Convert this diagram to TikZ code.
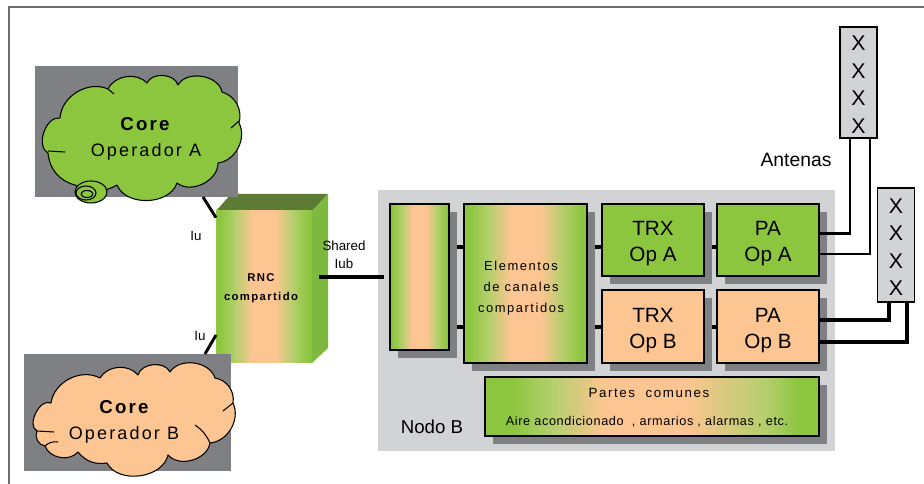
\documentclass[tikz,border=0pt]{standalone}
\usepackage{fontspec}
\setmainfont{Liberation Sans}
\newfontfamily\spaced[LetterSpace=12]{Liberation Sans}
\newfontfamily\spacedlight[LetterSpace=5]{Liberation Sans}
\usetikzlibrary{shadows}
\definecolor{opgreen}{HTML}{8CC63F}
\definecolor{opgreenlight}{HTML}{B4CF6C}
\definecolor{oporange}{HTML}{FDC591}
\definecolor{rnctop}{HTML}{5E7B36}
\definecolor{rncside}{HTML}{7DB93F}
\definecolor{backgray}{HTML}{7F8084}
\definecolor{panelgray}{HTML}{D2D3D5}
\definecolor{framegray}{HTML}{6D6E71}
\pgfdeclarehorizontalshading{sharedshade}{100bp}{color(0bp)=(opgreen); color(27bp)=(opgreen); color(35bp)=(opgreenlight); color(44bp)=(oporange); color(56bp)=(oporange); color(65bp)=(opgreenlight); color(73bp)=(opgreen); color(100bp)=(opgreen)}
\pgfdeclarehorizontalshading{widershade}{100bp}{color(0bp)=(opgreen); color(29bp)=(opgreen); color(35bp)=(opgreenlight); color(43bp)=(oporange); color(55bp)=(oporange); color(67bp)=(opgreenlight); color(72bp)=(opgreen); color(100bp)=(opgreen)}
\tikzset{
    backrect/.style={fill=backgray,inner sep=0pt,outer sep=0pt},
    cloudarc/.style={bend left=#1},
    cloudline/.style={draw=black,line width=0.8pt,line join=round},
    bus/.style={line width=3.6pt},
    wire/.style={line width=2.2pt},
    opbox/.style={draw=black,line width=1.1pt,inner sep=0pt,outer sep=0pt,align=center,text height=33pt,text depth=0pt,font=\fontsize{15.5}{19.5}\selectfont,
        drop shadow={shadow xshift=5.8pt,shadow yshift=-5.8pt,fill=backgray,opacity=1}},
    antenna/.style={draw=black,fill=panelgray,line width=1.1pt,inner sep=0pt,outer sep=0pt,align=center,text height=76pt,text depth=0pt,
        minimum width=27.5pt,font=\fontsize{16}{20.6}\selectfont},
    small/.style={font=\fontsize{10}{13.5}\selectfont,align=center,inner sep=0pt}
}
\begin{document}
\begin{tikzpicture}[x=0.75pt,y=-0.75pt]
    \useasboundingbox (0,0) rectangle (924,484);
    \draw[framegray,line width=1.5pt] (9,484) -- (9,7) -- (924,7);

    % RNC
    \fill[rnctop] (216,211) -- (231,194) -- (328,194) -- (312,211) -- cycle;
    \fill[rncside] (312,211) -- (328,194) -- (328,348) -- (312,363) -- cycle;
    \node[shading=sharedshade,inner sep=0pt,outer sep=0pt,minimum width=72pt,minimum height=114pt] (rnc) at (264,287) {};
    \node[font=\spaced\bfseries\fontsize{8.5}{14}\selectfont,align=center,inner sep=0pt] (rnclabel) at (261,288) {RNC\\compartido};

    % core A
    \node[backrect,minimum width=152.25pt,minimum height=98.25pt] (backA) at (136.5,131.5) {};
    \draw[cloudline,fill=opgreen] (60,118) to[cloudarc=55] (108,89) to[cloudarc=55] (147,83) to[cloudarc=70] (178,85)
        to[cloudarc=70] (222,92) to[cloudarc=45] (239,123) to[cloudarc=55] (218,163) to[cloudarc=65] (177,183)
        to[cloudarc=70] (117,185) to[cloudarc=30] (75,185) to[cloudarc=35] (48,153) to[cloudarc=80] (60,118) -- cycle;
    \draw[cloudline] (231,128) -- (239,121);
    \draw[cloudline] (48,151) -- (65,152);
    \draw[cloudline] (108,89) -- (114,94);
    \draw[cloudline,fill=opgreen] (91,192) ellipse (16 and 11);
    \draw[cloudline,fill=opgreen] (86,193) ellipse (10 and 7);
    \draw[cloudline] (87,194) ellipse (6 and 3.5);
    \node[font=\spaced\bfseries\fontsize{14}{14}\selectfont,inner sep=0pt] (coreA) at (145,124) {Core};
    \node[font=\spaced\fontsize{13.5}{14}\selectfont,inner sep=0pt] (opA) at (146,152) {Operador A};

    % core B
    \node[backrect,minimum width=155.25pt,minimum height=87.75pt] (backB) at (127.5,412.5) {};
    \draw[cloudline,fill=oporange] (51,403) to[cloudarc=55] (100,378) to[cloudarc=55] (138,375) to[cloudarc=70] (170,372)
        to[cloudarc=65] (215,378) to[cloudarc=45] (233,403) to[cloudarc=55] (210,443) to[cloudarc=65] (168,455)
        to[cloudarc=70] (107,463) to[cloudarc=30] (78,452) to[cloudarc=60] (45,446) to[cloudarc=55] (37,431) to[cloudarc=90] (51,403) -- cycle;
    \draw[cloudline] (223,411) -- (233,403);
    \draw[cloudline] (195,425) to[bend left=15] (210,443);
    \draw[cloudline] (37,431) -- (54,432);
    \draw[cloudline] (45,446) to[bend left=25] (58,442);
    \node[font=\spaced\bfseries\fontsize{14}{14}\selectfont,inner sep=0pt] (coreB) at (124,407) {Core};
    \node[font=\spaced\fontsize{13.5}{14}\selectfont,inner sep=0pt] (opB) at (124,435) {Operador B};

    % Iu links
    \coordinate (iuA) at (203,197);
    \coordinate (iuB) at (205,354);
    \draw[line width=2.2pt] (iuA) -- ([yshift=-5pt]rnc.north west);
    \draw[line width=2.2pt] (iuB) -- ([yshift=21pt]rnc.south west);
    \node[small] (iulabelA) at (196,236) {Iu};
    \node[small] (iulabelB) at (200,336) {Iu};
    \node[small] (sharedlabel) at (344,255) {Shared\\Iub};

    % nodo B
    \node[fill=panelgray,inner sep=0pt,outer sep=0pt,minimum width=342.75pt,minimum height=195.75pt] (nodob) at (606.5,320.5) {};
    \node[font=\fontsize{14}{14}\selectfont,inner sep=0pt] (nodolabel) at (432,427) {Nodo B};
    \node[opbox,shading=sharedshade,minimum width=44.25pt,minimum height=109.5pt] (iubbox) at (419.5,277) {};
    \node[opbox,shading=sharedshade,minimum width=92.25pt,minimum height=119.25pt] (elementos) at (525.5,283.5) {};
    \node[font=\spaced\fontsize{9.7}{16}\selectfont,align=center,inner sep=0pt] (elementoslabel) at (521,288) {Elementos\\de canales\\compartidos};
    \node[opbox,fill=opgreen,minimum width=76.5pt,minimum height=54pt] (trxA) at (653,240) {TRX\\Op A};
    \node[opbox,fill=oporange,minimum width=76.5pt,minimum height=54.75pt] (trxB) at (653,326.5) {TRX\\Op B};
    \node[opbox,fill=opgreen,minimum width=76.5pt,minimum height=54pt] (paA) at (768,240) {PA\\Op A};
    \node[opbox,fill=oporange,minimum width=76.5pt,minimum height=54.75pt] (paB) at (768,326.5) {PA\\Op B};
    \node[opbox,shading=widershade,minimum width=250.5pt,minimum height=44.25pt] (partes) at (652,406.5) {};
    \node[font=\spaced\fontsize{10}{10}\selectfont,inner sep=0pt] (parteslabel) at (649,393) {Partes \ comunes};
    \node[font=\spacedlight\fontsize{9.5}{9.5}\selectfont,inner sep=0pt] (aire) at (647,422) {Aire acondicionado \ , armarios , alarmas , etc.};

    % enlaces internos
    \coordinate (rowA) at (0,247);
    \coordinate (rowB) at (0,327);
    \coordinate (iubstart) at (319,277);
    \draw[line width=3pt] (iubstart) -- ([xshift=-4.5pt]iubbox.west);
    \foreach \rowname in {rowA,rowB} {
        \draw[bus] ([xshift=5.8pt]iubbox.east |- \rowname) -- (elementos.west |- \rowname);
        \draw[bus] ([xshift=5.8pt]elementos.east |- \rowname) -- (trxA.west |- \rowname);
        \draw[bus] ([xshift=5.8pt]trxA.east |- \rowname) -- (paA.west |- \rowname);
    }

    % antenas
    \node[antenna,minimum height=83.25pt] (antA) at (858.5,82.5) {X\\X\\X\\X};
    \node[antenna,minimum height=85.5pt] (antB) at (896,245) {X\\X\\X\\X};
    \node[font=\fontsize{14.5}{14.5}\selectfont,inner sep=0pt] (antlabel) at (796,160) {Antenas};
    \draw[wire] ([yshift=5pt]paA.east) -| ([xshift=-6.4pt]antA.south);
    \draw[wire] ([yshift=-10.5pt]paA.east) -| ([xshift=8.6pt]antA.south);
    \draw[wire,line width=2.6pt] ([yshift=4.9pt]paB.east) -| ([xshift=-5.2pt]antB.south);
    \draw[wire,line width=2.6pt] ([yshift=-11.6pt]paB.east) -| ([xshift=8.3pt]antB.south);
\end{tikzpicture}
\end{document}
